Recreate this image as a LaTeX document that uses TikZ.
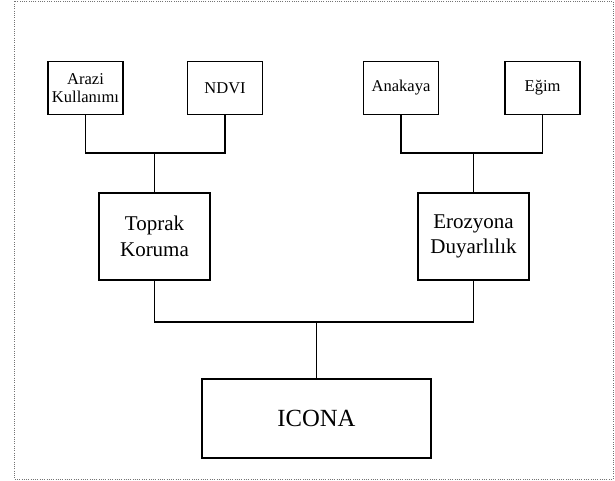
\documentclass[tikz,border=0pt]{standalone}
\usepackage{fontspec}
\setmainfont{Liberation Serif}
\usepackage{tikz}
\usetikzlibrary{positioning}

\begin{document}
\begin{tikzpicture}[
    x = .75pt,
    y = -.75pt,
    leaff/.style = {
      rectangle,
      draw,
      line width=1.2pt,
      inner sep=0pt,
      minimum width=56.25pt,
      minimum height=39.5pt,
      align=center,
      font=\fontsize{12.4}{13.2}\selectfont
    },
    critf/.style = {
      rectangle,
      draw,
      line width=1.2pt,
      inner sep=0pt,
      minimum width=83.25pt,
      minimum height=65.25pt,
      align=center,
      font=\fontsize{15.75}{19.3}\selectfont
    },
    indexf/.style = {
      rectangle,
      draw,
      line width=1.2pt,
      inner sep=0pt,
      minimum width=171.75pt,
      minimum height=59.25pt,
      font=\fontsize{18.5}{22}\selectfont
    },
    linkf/.style = {
      line width=1pt
    }
  ]
    \useasboundingbox (0,0) rectangle (615,481);
    \draw[black!55, densely dotted, line width=.7pt] (14,1.5) rectangle (613,479);

    \node[indexf] (icona) at (316.5,418.5) {ICONA};
    \node[critf] (toprak) at (154.5,236.5) {Toprak\\Koruma};
    \node[critf] (erozyona) at (473.5,236.5) {Erozyona\\Duyarlılık};

    \node[leaff] (arazi) at (85.5,88) {Arazi\\Kullanımı};
    \node[leaff] (ndvi) [right=47.25pt of arazi] {NDVI};
    \node[leaff] (anakaya) at (401,88) {Anakaya};
    \node[leaff] (egim) [right=48.75pt of anakaya] {Eğim};

    \coordinate (jtop) at (0,153);
    \coordinate (jbot) at (0,322);

    \draw[linkf] (arazi.south) |- (jtop -| toprak.north) -| (ndvi.south);
    \draw[linkf] (toprak.north) -- (toprak.north |- jtop);
    \draw[linkf] (anakaya.south) |- (jtop -| erozyona.north) -| (egim.south);
    \draw[linkf] (erozyona.north) -- (erozyona.north |- jtop);
    \draw[linkf] (toprak.south) |- (jbot -| icona.north) -| (erozyona.south);
    \draw[linkf] (icona.north) -- (icona.north |- jbot);

  \end{tikzpicture}
\end{document}
